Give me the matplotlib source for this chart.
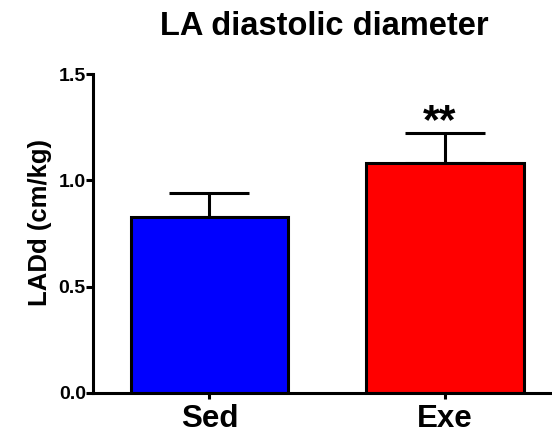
import matplotlib
matplotlib.use("Agg")
import matplotlib.pyplot as plt

# group means and SEM for left atrial diastolic diameter
groups = ["Sed", "Exe"]
means = [0.828, 1.082]
sems = [0.110, 0.142]
colors = ["#0000ff", "#ff0000"]
signif = ["", "**"]
yticks = [0.0, 0.5, 1.0, 1.5]

plt.rcParams['font.family'] = ['Liberation Sans', 'DejaVu Sans']
plt.rcParams['font.weight'] = 'bold'

fig = plt.figure(figsize=(5.52, 4.38), dpi=100)
ax = fig.add_axes([0.168, 0.103, 0.832, 0.728])

x = list(range(len(groups)))
ax.bar(x, means, width=0.667, color=colors, edgecolor='black',
       linewidth=2.2, zorder=2)
ax.errorbar(x, means, yerr=[[0] * len(sems), sems], fmt='none',
            ecolor='black', elinewidth=2.2, capsize=29, capthick=2.2, zorder=1)

for xi, m, s, lab in zip(x, means, sems, signif):
    if lab:
        ax.text(xi - 0.025, m + s - 0.045, lab, ha='center', va='bottom',
                fontsize=31, fontweight='bold')

ax.set_xlim(-0.495, 1.454)
ax.set_ylim(0, 1.5)
ax.set_yticks(yticks)
ax.set_yticklabels(["%.1f" % t for t in yticks], fontsize=14, fontweight='bold')
ax.set_xticks(x)
ax.set_xticklabels(groups, fontsize=22.5, fontweight='bold')
ax.set_ylabel("LADd (cm/kg)", fontsize=18.5, fontweight='bold',
              va='center')
ax.yaxis.set_label_coords(-0.115, 0.535)

for side in ['top', 'right']:
    ax.spines[side].set_visible(False)
for side in ['left', 'bottom']:
    ax.spines[side].set_linewidth(2.2)
ax.tick_params(axis='y', direction='out', length=5, width=2.2, pad=0)
ax.tick_params(axis='x', direction='out', length=4, width=2.2, pad=4)

fig.text(0.587, 1 - 35 / 438, "LA diastolic diameter", ha='center',
         va='baseline', fontsize=23.5, fontweight='bold')

fig.savefig("out.png", dpi=100)
